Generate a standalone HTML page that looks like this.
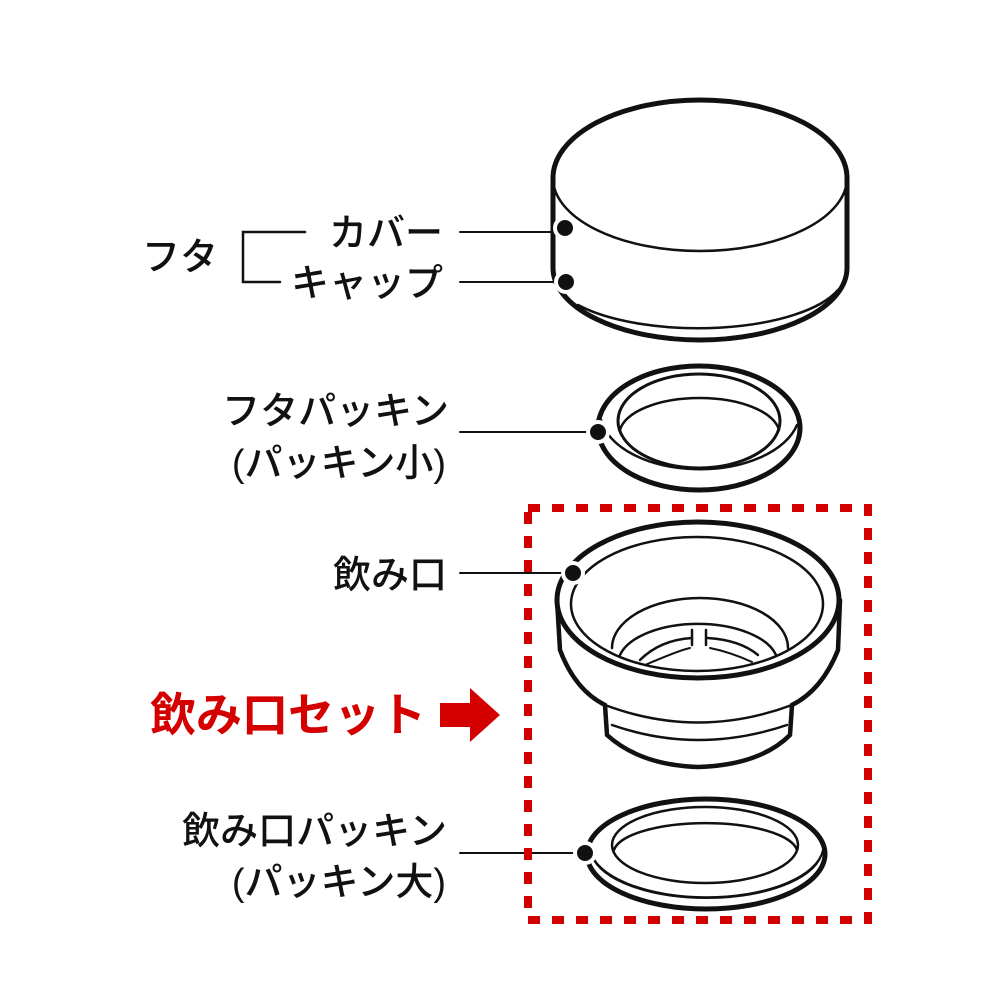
<!DOCTYPE html>
<html><head><meta charset="utf-8"><style>
html,body{margin:0;padding:0;background:#fff}
svg{display:block}
text{font-family:"Liberation Sans","Noto Sans CJK JP",sans-serif;fill:#111}
</style></head><body>
<svg width="1000" height="1000" viewBox="0 0 1000 1000">
<g fill="none" stroke="#111" stroke-linecap="round">
<!-- cap -->
<path d="M553,178 A147,78 0 0 1 847,178 L847,268 A147,72 0 0 1 553,268 Z" fill="#fff" stroke-width="5"/>
<path d="M553,178 A147,73 0 0 0 847,178" stroke-width="2.5"/>
<path d="M578,305 A147,55 0 0 0 838,290" stroke-width="2.5"/>
<!-- small gasket -->
<ellipse cx="699" cy="428" rx="101" ry="62" fill="#fff" stroke-width="5"/>
<path d="M601,420 A100,58 0 0 0 797,425" stroke-width="2.5"/>
<ellipse cx="699" cy="421" rx="81" ry="47" stroke-width="3"/>
<path d="M620,430 A80,36 0 0 1 779,430" stroke-width="2.5"/>
<!-- mouthpiece -->
<path d="M557,600 L560,650 Q575,690 605,705 L607,735 Q640,765 698,767 Q760,765 790,735 L792,705 Q822,690 838,650 L840,600" fill="#fff" stroke-width="4.5"/>
<path d="M605,705 Q698,740 792,705" stroke-width="2.5"/>
<path d="M612,725 Q698,755 787,725" stroke-width="2.5"/>
<ellipse cx="698" cy="600" rx="141" ry="78" fill="#fff" stroke-width="5"/>
<ellipse cx="697" cy="604" rx="126" ry="67" stroke-width="2.5"/>
<path d="M612,648 A88,50 0 0 1 788,648" stroke-width="2.5"/>
<path d="M620,655 A80,40 0 0 1 776,655" stroke-width="2.5"/>
<path d="M640,660 Q660,640 692,638 M708,638 Q740,640 758,655" stroke-width="2.5"/>
<path d="M692,630 L692,645 M706,630 L706,645" stroke-width="2.5"/>
<path d="M645,665 Q680,650 690,648 M710,648 Q730,652 752,662" stroke-width="2"/>
<!-- large gasket -->
<ellipse cx="706" cy="854" rx="119" ry="55" fill="#fff" stroke-width="5"/>
<path d="M590,850 A117,52 0 0 0 823,850" stroke-width="2"/>
<path d="M592,856 A116,50 0 0 0 821,856" stroke-width="2"/>
<ellipse cx="705" cy="845" rx="93" ry="38" stroke-width="2.5"/>
<path d="M614,850 A92,30 0 0 1 797,850" stroke-width="2.5"/>
<!-- leader lines -->
<path d="M460,232 H565 M460,282 H565 M460,432 H597 M460,573 H573 M460,853 H585" stroke-width="2"/>
<path d="M305,232 H243 V282 H280" stroke-width="2.5"/>
</g>
<g fill="#111" stroke="#fff" stroke-width="4">
<circle cx="565" cy="228" r="10"/><circle cx="566" cy="282" r="10"/>
<circle cx="598" cy="432" r="10"/><circle cx="573" cy="573" r="10"/><circle cx="585" cy="853" r="10"/>
</g>
<rect x="528" y="508" width="340" height="412" fill="none" stroke="#d40000" stroke-width="8" stroke-dasharray="12 12"/>
<path d="M440,703 H470 V688 L500,715 L470,742 V727 H440 Z" fill="#d40000"/>
<g font-size="38" font-weight="500">
<text x="142" y="270">フタ</text>
<g text-anchor="end">
<text x="443" y="246">カバー</text>
<text x="443" y="296">キャップ</text>
<text x="449" y="424">フタパッキン</text>
<text x="446" y="476">(パッキン小)</text>
<text x="447" y="588">飲み口</text>
<text x="447" y="844">飲み口パッキン</text>
<text x="446" y="895">(パッキン大)</text>
</g>
</g>
<text x="150" y="731" font-size="46" font-weight="bold" style="fill:#d40000">飲み口セット</text>
</svg>
</body></html>
